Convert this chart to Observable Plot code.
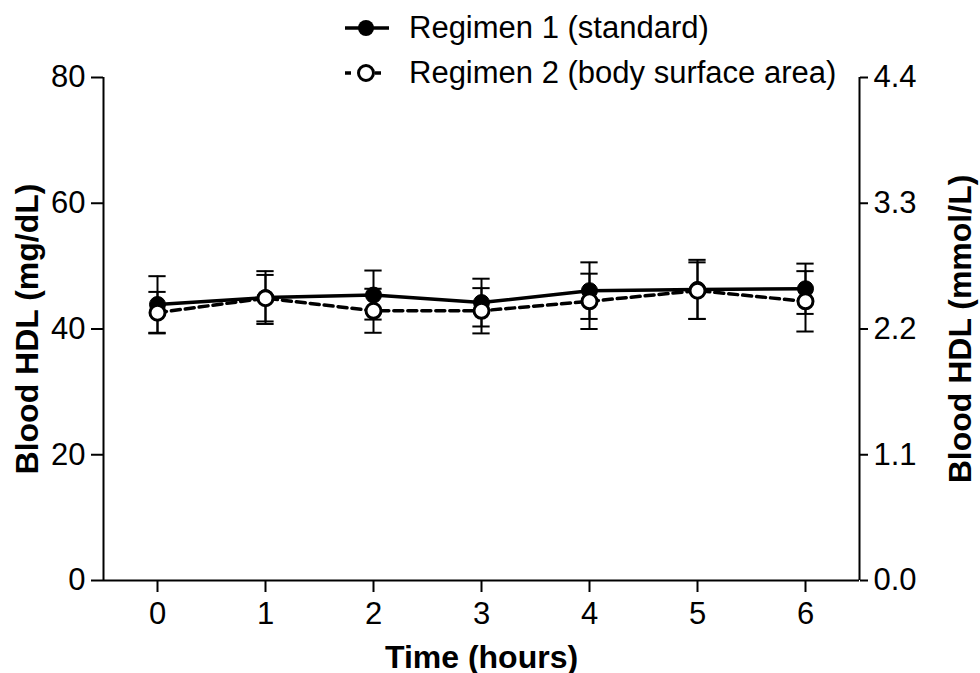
<!DOCTYPE html>
<html>
<head>
<meta charset="utf-8">
<script src="https://cdn.jsdelivr.net/npm/d3@7"></script>
<script src="https://cdn.jsdelivr.net/npm/@observablehq/plot@0.6"></script>
<style>
  html, body { margin: 0; padding: 0; background: #fff; }
  #wrap { position: relative; width: 980px; height: 673px; font-family: "Liberation Sans", Arial, sans-serif; }
  #legend { position: absolute; left: 340px; top: 0; }
  .row { position: absolute; left: 0; display: flex; align-items: center; white-space: nowrap; font-size: 31px; color: #000; }
  .row svg { display: block; margin-right: 17px; }
</style>
</head>
<body>
<div id="wrap">
  <div id="chart"></div>
  <div id="legend"></div>
</div>
<script>
// ---- data ----
const hours = [0, 1, 2, 3, 4, 5, 6];
const reg1Mean = [43.9, 45.0, 45.4, 44.2, 46.1, 46.3, 46.4];
const reg1Sem  = [4.5, 4.2, 3.9, 3.8, 4.5, 4.7, 4.0];
const reg2Mean = [42.6, 44.9, 42.9, 42.9, 44.4, 46.1, 44.4];
const reg2Sem  = [3.3, 3.7, 3.5, 3.6, 4.4, 4.5, 4.8];
const seriesNames = ["Regimen 1 (standard)", "Regimen 2 (body surface area)"];
const leftTicks = [0, 20, 40, 60, 80];
const rightTickLabels = ["0.0", "1.1", "2.2", "3.3", "4.4"];
const xTicks = [0, 1, 2, 3, 4, 5, 6];
const xLabel = "Time (hours)";
const leftLabel = "Blood HDL (mg/dL)";
const rightLabel = "Blood HDL (mmol/L)";

// ---- table ----
const rows = [];
hours.forEach((t, i) => {
  rows.push({series: seriesNames[0], t, mean: reg1Mean[i], lo: reg1Mean[i] - reg1Sem[i], hi: reg1Mean[i] + reg1Sem[i]});
  rows.push({series: seriesNames[1], t, mean: reg2Mean[i], lo: reg2Mean[i] - reg2Sem[i], hi: reg2Mean[i] + reg2Sem[i]});
});
const r1 = rows.filter(d => d.series === seriesNames[0]);
const r2 = rows.filter(d => d.series === seriesNames[1]);
const capHalf = 0.08;
const tickFont = 31;
const noLabel = () => "";

const chart = Plot.plot({
  width: 980,
  height: 673,
  marginLeft: 103,
  marginRight: 121,
  marginTop: 77,
  marginBottom: 93,
  style: {fontFamily: "'Liberation Sans', Arial, sans-serif", color: "#000", background: "#fff", overflow: "visible"},
  x: {domain: [-0.5, 6.5]},
  y: {domain: [0, 80]},
  marks: [
    // error bars
    Plot.ruleX(rows, {x: "t", y1: "lo", y2: "hi", stroke: "#000", strokeWidth: 2}),
    Plot.ruleY(rows, {y: "hi", x1: d => d.t - capHalf, x2: d => d.t + capHalf, stroke: "#000", strokeWidth: 2}),
    Plot.ruleY(rows, {y: "lo", x1: d => d.t - capHalf, x2: d => d.t + capHalf, stroke: "#000", strokeWidth: 2}),
    // lines
    Plot.line(r1, {x: "t", y: "mean", stroke: "#000", strokeWidth: 3.5}),
    Plot.dot(r1, {x: "t", y: "mean", r: 8, fill: "#000", stroke: "#000", strokeWidth: 1}),
    Plot.line(r2, {x: "t", y: "mean", stroke: "#000", strokeWidth: 3.5, strokeDasharray: "9,5"}),
    Plot.dot(r2, {x: "t", y: "mean", r: 7.5, fill: "#fff", stroke: "#000", strokeWidth: 3}),
    // axis lines
    Plot.ruleX([-0.5, 6.5], {stroke: "#000", strokeWidth: 2}),
    Plot.ruleY([0], {stroke: "#000", strokeWidth: 2}),
    // axis ticks (marks only)
    Plot.axisX(xTicks, {anchor: "bottom", tickSize: 12, strokeWidth: 2, tickFormat: noLabel, label: null}),
    Plot.axisY(leftTicks, {anchor: "left", tickSize: 12, strokeWidth: 2, tickFormat: noLabel, label: null}),
    Plot.axisY(leftTicks, {anchor: "right", tickSize: 8, strokeWidth: 2, tickFormat: noLabel, label: null}),
    // tick labels
    Plot.text(xTicks, {x: d => d, text: d => String(d), frameAnchor: "bottom", dy: 34, fontSize: tickFont, textAnchor: "middle", lineAnchor: "middle"}),
    Plot.text(leftTicks, {y: d => d, text: d => String(d), frameAnchor: "left", dx: -18, fontSize: tickFont, textAnchor: "end", lineAnchor: "middle"}),
    Plot.text(leftTicks, {y: d => d, text: (d, i) => rightTickLabels[i], frameAnchor: "right", dx: 14, fontSize: tickFont, textAnchor: "start", lineAnchor: "middle"}),
    // axis titles
    Plot.text([xLabel], {frameAnchor: "bottom", dy: 77, fontSize: 32, fontWeight: "bold", lineAnchor: "middle", textAnchor: "middle"}),
    Plot.text([leftLabel], {frameAnchor: "left", dx: -76, rotate: -90, fontSize: 32, fontWeight: "bold", lineAnchor: "middle", textAnchor: "middle"}),
    Plot.text([rightLabel], {frameAnchor: "right", dx: 101, rotate: -90, fontSize: 32, fontWeight: "bold", lineAnchor: "middle", textAnchor: "middle"})
  ]
});
document.getElementById("chart").appendChild(chart);

// ---- legend ----
const legend = document.getElementById("legend");
const tops = [28, 73];
seriesNames.forEach((name, i) => {
  const row = document.createElement("div");
  row.className = "row";
  row.style.top = (tops[i] - 20) + "px";
  const sym = i === 0
    ? `<svg width="52" height="40"><line x1="5" y1="20" x2="49" y2="20" stroke="#000" stroke-width="3.5"/><circle cx="26" cy="20" r="8" fill="#000"/></svg>`
    : `<svg width="52" height="40"><line x1="5" y1="20" x2="49" y2="20" stroke="#000" stroke-width="3.5" stroke-dasharray="6,9"/><circle cx="26" cy="20" r="7.5" fill="#fff" stroke="#000" stroke-width="3"/></svg>`;
  row.innerHTML = sym + `<span>${name}</span>`;
  legend.appendChild(row);
});
</script>
</body>
</html>
